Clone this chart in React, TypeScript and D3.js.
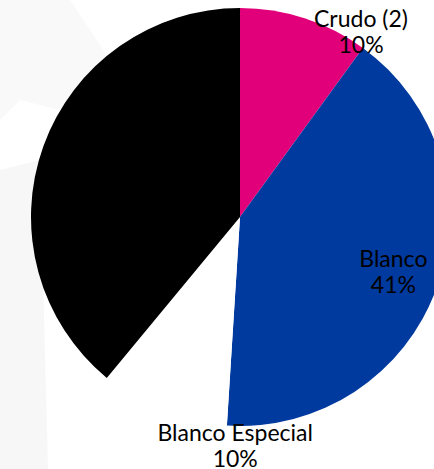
import React from "react";
import * as d3 from "d3";

const categories = ["Crudo (2)", "Blanco", "Blanco Especial", "Crudo"];
const values = [10, 41, 10, 39];
const colors = ["#E2007A", "#003A9E", "#FFFFFF", "#000000"];
// label anchor: angle (deg from 12 o'clock, clockwise) and radius
const labelAngle = [33.2, 109.8, 181.2, 290];
const labelRadius = [221, 163, 229, 130];

const width = 434;
const height = 469;
const cx = 240;
const cy = 217;
const radius = 209;

const App = () => {
  const pie = d3
    .pie<number>()
    .sort(null)
    .value((d) => d);
  const arcs = pie(values);
  const arc = d3.arc<d3.PieArcDatum<number>>().innerRadius(0).outerRadius(radius);
  const total = d3.sum(values);

  return (
    <svg
      width={width}
      height={height}
      style={{ position: "absolute", left: 0, top: 0 }}
      fontFamily="Lato, 'Open Sans', sans-serif"
    >
      <rect width={width} height={height} fill="#fff" />
      {/* faint background watermark */}
      <path d="M0,0 L70,0 L110,60 L60,110 L20,100 L0,120 Z" fill="#f9f9f9" />
      <path d="M0,170 L40,160 L48,469 L0,469 Z" fill="#f7f7f7" />
      <g transform={`translate(${cx},${cy})`}>
        {arcs.map((a, i) => (
          <path key={i} d={arc(a) || ""} fill={colors[i]} />
        ))}
        {arcs.map((a, i) => {
          const ang = (labelAngle[i] * Math.PI) / 180;
          const x = Math.sin(ang) * labelRadius[i];
          const y = -Math.cos(ang) * labelRadius[i];
          return (
            <text
              key={"l" + i}
              x={x}
              y={y}
              textAnchor="middle"
              fontSize="23px"
              fill="#000"
            >
              <tspan x={x} dy="-5">
                {categories[i]}
              </tspan>
              <tspan x={x} dy="26">
                {Math.round((a.data / total) * 100)}%
              </tspan>
            </text>
          );
        })}
      </g>
    </svg>
  );
};

export default App;
